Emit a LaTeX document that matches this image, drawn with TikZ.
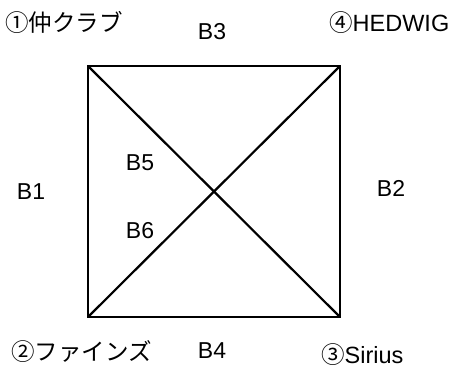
\documentclass[tikz,border=0pt]{standalone}
\usepackage{fontspec}
\setmainfont{Liberation Sans}
\newfontfamily\jpfont{Noto Sans CJK JP}
\usetikzlibrary{positioning}
\tikzset{
  edge/.style={line width=2.2pt, black},
  blabel/.style={font=\fontsize{23}{26}\selectfont, inner sep=0pt},
  clubname/.style={font=\fontsize{23.5}{26}\selectfont, inner sep=0pt, anchor=west}
}

\begin{document}
\begin{tikzpicture}[x=1pt, y=-1pt]
  \useasboundingbox (0,0) rectangle (461,368);
  % corners of the square
  \coordinate (tl) at (88,66);
  \coordinate (tr) at (340,66);
  \coordinate (br) at (340,317);
  \coordinate (bl) at (88,317);
  \draw[edge] (tl) -- (tr) -- (br) -- (bl) -- cycle;
  \draw[edge] (tl) -- (br);
  \draw[edge] (bl) -- (tr);
  % clubs at the corners
  \node[clubname] (club1) at (5,22) {{\jpfont ①仲クラブ}};
  \node[clubname] (club4) at (329,23) {{\jpfont ④}HEDWIG};
  \node[clubname] (club2) at (11,352) {{\jpfont ②ファインズ}};
  \node[clubname] (club3) at (321,355) {{\jpfont ③}Sirius};
  % bouts
  \node[blabel] (b1) at (31,192) {B1};
  \node[blabel] (b2) at (391,188) {B2};
  \node[blabel] (b3) at (212,32) {B3};
  \node[blabel] (b4) at (212,351) {B4};
  \node[blabel] (b5) at (140,163) {B5};
  \node[blabel] (b6) at (140,231) {B6};
\end{tikzpicture}
\end{document}
